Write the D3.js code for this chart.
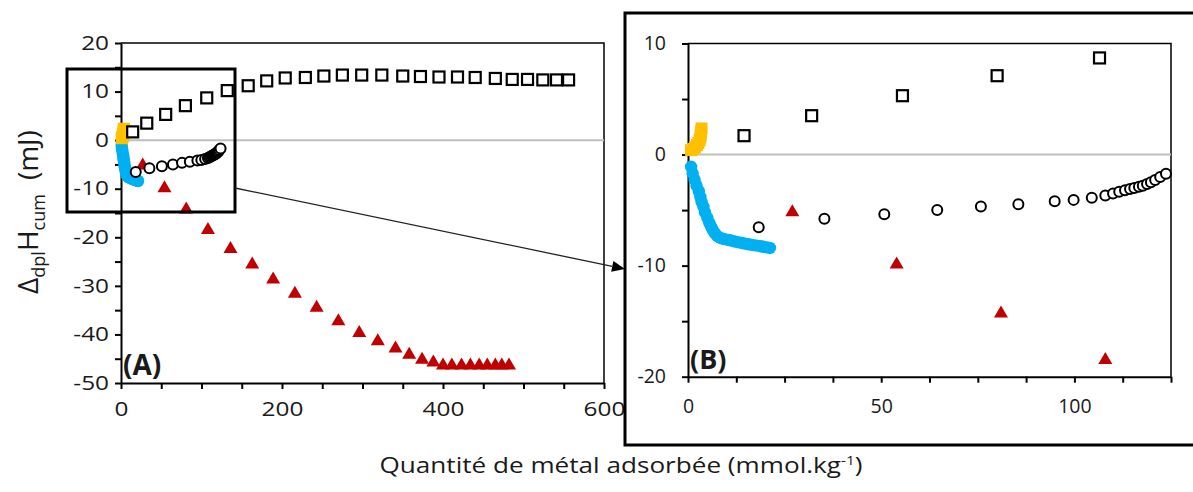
<!DOCTYPE html>
<html>
<head>
<meta charset="utf-8">
<script src="https://cdn.jsdelivr.net/npm/d3@7"></script>
<style>
  html, body { margin: 0; padding: 0; background: #fff; }
  svg { display: block; }
  text { font-family: "Open Sans", sans-serif; fill: #1a1a1a; }
</style>
</head>
<body>
<svg id="chart" width="1193" height="492"></svg>
<script>
// ---- Data ----
// Open squares series
const squareX = [14.5, 32, 55.5, 80, 106.5, 132, 158, 181, 204, 229, 252, 275, 299, 324, 350, 372, 395, 418, 440, 465, 486, 505, 524, 541, 556];
const squareY = [1.7, 3.5, 5.3, 7.1, 8.7, 10.2, 11.2, 12.2, 12.8, 12.9, 13.2, 13.4, 13.4, 13.4, 13.2, 13.1, 13.0, 13.0, 12.9, 12.7, 12.5, 12.5, 12.4, 12.4, 12.4];
// Red filled triangles series
const triX = [27, 54, 81, 108, 136, 163, 189, 216, 243, 270, 296, 319, 341, 358, 374, 388, 400, 411, 423, 434, 445, 455, 465, 473, 482];
const triY = [-5.2, -9.9, -14.3, -18.5, -22.4, -25.6, -28.7, -31.6, -34.5, -37.3, -39.7, -41.4, -42.9, -44.2, -45.2, -45.8, -46.4, -46.4, -46.4, -46.4, -46.4, -46.4, -46.4, -46.4, -46.4];
// Open circles series
const circX = [18.3, 35.3, 50.8, 64.5, 75.8, 85.5, 94.9, 99.8, 104.5, 108, 110, 111.6, 113.1, 114.4, 115.5, 116.7, 117.7, 118.8, 119.8, 120.9, 122.2, 123.7];
const circY = [-6.55, -5.77, -5.38, -5.0, -4.68, -4.47, -4.2, -4.08, -3.88, -3.69, -3.5, -3.35, -3.22, -3.1, -3.0, -2.9, -2.8, -2.65, -2.5, -2.28, -2.02, -1.72];
// Blue filled circles series
const blueX = [0.8, 1.2, 1.7, 2.2, 2.8, 3.2, 3.5, 4.0, 4.4, 5.0, 5.5, 6.0, 6.4, 7.0, 7.6, 8.4, 9.1, 10.0, 10.9, 11.8, 12.6, 13.5, 14.3, 15.2, 16.0, 16.9, 17.8, 18.7, 19.5, 20.4, 21.2];
const blueY = [-1.1, -1.7, -2.25, -2.8, -3.3, -3.8, -4.25, -4.7, -5.2, -5.7, -6.15, -6.5, -6.8, -7.1, -7.35, -7.5, -7.6, -7.66, -7.72, -7.8, -7.87, -7.93, -7.99, -8.05, -8.1, -8.15, -8.2, -8.25, -8.3, -8.36, -8.41];
// Orange filled squares series
const orangeX = [0.8, 1.3, 1.8, 2.3, 2.7, 3.0, 3.2, 3.3, 3.4, 3.5];
const orangeY = [0.4, 0.5, 0.65, 0.85, 1.05, 1.3, 1.55, 1.8, 2.05, 2.35];

// Axis ticks
const leftXTicks = [0, 50, 100, 150, 200, 250, 300, 350, 400, 450, 500, 550, 600];
const leftXLabels = [0, 200, 400, 600];
const leftYTicks = [-50, -45, -40, -35, -30, -25, -20, -15, -10, -5, 0, 5, 10, 15, 20];
const leftYLabels = [-50, -40, -30, -20, -10, 0, 10, 20];
const rightXTicks = [0, 12.5, 25, 37.5, 50, 62.5, 75, 87.5, 100, 112.5, 125];
const rightXLabels = [0, 50, 100];
const rightYTicks = [-20, -15, -10, -5, 0, 5, 10];
const rightYLabels = [-20, -10, 0, 10];

const xTitle = "Quantité de métal adsorbée (mmol.kg";
const panelA = "(A)", panelB = "(B)";

// ---- Drawing ----
const svg = d3.select("#chart");
const zip = (xs, ys) => xs.map((x, i) => ({x, y: ys[i]}));
const squares = zip(squareX, squareY), tris = zip(triX, triY), circs = zip(circX, circY);
const blues = zip(blueX, blueY), oranges = zip(orangeX, orangeY);

const COLORS = { red: "#C00000", blue: "#00B0F0", orange: "#FFC000", grid: "#BFBFBF" };

function panel(cfg) {
  const { x, y, xTicks, xLabels, yTicks, yLabels, xLabelPad, yLabelPad, fontSize, labelScale } = cfg;
  const g = svg.append("g");
  const [x0, x1] = x.range(), [y0, y1] = y.range();
  g.append("path").attr("d", `M${x0},${y1}H${x1}V${y0}`).attr("fill", "none").attr("stroke", "#000").attr("stroke-width", 1.5);
  g.append("line").attr("x1", x0).attr("x2", x1).attr("y1", y(0)).attr("y2", y(0))
    .attr("stroke", COLORS.grid).attr("stroke-width", 2);

  const ax = g.append("g").attr("transform", `translate(0,${y0})`)
    .call(d3.axisBottom(x).tickValues(xTicks).tickSize(6).tickSizeOuter(0).tickPadding(xLabelPad)
      .tickFormat(d => xLabels.includes(d) ? String(d) : ""));
  const ay = g.append("g").attr("transform", `translate(${x0},0)`)
    .call(d3.axisLeft(y).tickValues(yTicks).tickSize(6).tickSizeOuter(0).tickPadding(yLabelPad)
      .tickFormat(d => yLabels.includes(d) ? String(d) : ""));
  [ax, ay].forEach(a => {
    a.attr("font-family", null).attr("font-size", null);
    a.select(".domain").attr("stroke", "#000").attr("stroke-width", 2);
    a.selectAll(".tick line").attr("stroke", "#000").attr("stroke-width", 2);
    a.selectAll(".tick text").attr("fill", "#1a1a1a").style("font-size", fontSize + "px")
      .style("font-family", "'Open Sans', sans-serif");
  });
  if (labelScale) {
    ay.selectAll(".tick text").style("transform-box", "fill-box").style("transform-origin", "right center")
      .style("transform", `scaleX(${labelScale})`);
    ax.selectAll(".tick text").style("transform-box", "fill-box").style("transform-origin", "center center")
      .style("transform", `scaleX(${labelScale})`);
  }
  return g;
}

function drawMarkers(g, x, y) {
  const inX = d => d.x >= x.domain()[0] && d.x <= x.domain()[1] && d.y >= y.domain()[0] && d.y <= y.domain()[1];
  g.selectAll(null).data(blues.filter(inX)).join("circle")
    .attr("cx", d => x(d.x)).attr("cy", d => y(d.y)).attr("r", 6.2).attr("fill", COLORS.blue);
  g.selectAll(null).data(oranges.filter(inX)).join("rect")
    .attr("x", d => x(d.x) - 6).attr("y", d => y(d.y) - 6).attr("width", 12).attr("height", 12).attr("fill", COLORS.orange);
  g.selectAll(null).data(squares.filter(inX)).join("rect")
    .attr("x", d => x(d.x) - 5.5).attr("y", d => y(d.y) - 5.5).attr("width", 11).attr("height", 11)
    .attr("fill", "#fff").attr("stroke", "#000").attr("stroke-width", 2.2);
  const tw = 14, th = 12;
  g.selectAll(null).data(tris.filter(inX)).join("path")
    .attr("d", `M0,${-th * 2 / 3}L${tw / 2},${th / 3}L${-tw / 2},${th / 3}Z`)
    .attr("transform", d => `translate(${x(d.x)},${y(d.y)})`).attr("fill", COLORS.red);
  g.selectAll(null).data(circs.filter(inX)).join("circle")
    .attr("cx", d => x(d.x)).attr("cy", d => y(d.y)).attr("r", 5)
    .attr("fill", "#fff").attr("stroke", "#000").attr("stroke-width", 2);
}

// Left panel (A)
const lx = d3.scaleLinear().domain([0, 600]).range([121, 604]);
const ly = d3.scaleLinear().domain([-50, 20]).range([383, 43]);
const gA = panel({ x: lx, y: ly, xTicks: leftXTicks, xLabels: leftXLabels, yTicks: leftYTicks, yLabels: leftYLabels,
  xLabelPad: 13, yLabelPad: 6, fontSize: 19.5, labelScale: 1.25 });
drawMarkers(gA, lx, ly);
gA.append("text").attr("x", 123).attr("y", 375).style("font-weight", "bold").style("font-size", "28px").text(panelA);

// Right panel (B)
const rx = d3.scaleLinear().domain([0, 125]).range([688, 1171]);
const ry = d3.scaleLinear().domain([-20, 10]).range([376.7, 43.5]);
const gB = panel({ x: rx, y: ry, xTicks: rightXTicks, xLabels: rightXLabels, yTicks: rightYTicks, yLabels: rightYLabels,
  xLabelPad: 16, yLabelPad: 16, fontSize: 19.5 });
drawMarkers(gB, rx, ry);
gB.append("text").attr("x", 690).attr("y", 369).style("font-weight", "bold").style("font-size", "27px").text(panelB);

// Zoom inset box in panel A
svg.append("rect").attr("x", 67).attr("y", 69).attr("width", 168).attr("height", 143)
  .attr("fill", "none").attr("stroke", "#000").attr("stroke-width", 3);
// Outer frame of panel B
svg.append("rect").attr("x", 625).attr("y", 13).attr("width", 600).attr("height", 432)
  .attr("fill", "none").attr("stroke", "#000").attr("stroke-width", 3);

// Arrow from inset to panel B
(function () {
  const sx = 235, sy = 188, tx = 625, ty = 269;
  const ang = Math.atan2(ty - sy, tx - sx), L = 13, W = 5.5;
  const bx = tx - L * Math.cos(ang), by = ty - L * Math.sin(ang);
  svg.append("line").attr("x1", sx).attr("y1", sy).attr("x2", bx).attr("y2", by).attr("stroke", "#222").attr("stroke-width", 1.3);
  const px = -Math.sin(ang) * W, py = Math.cos(ang) * W;
  svg.append("path").attr("d", `M${tx},${ty}L${bx + px},${by + py}L${bx - px},${by - py}Z`).attr("fill", "#000");
})();

// Axis titles
const yt = svg.append("text").attr("transform", "translate(38,212) rotate(-90)").attr("text-anchor", "middle")
  .style("font-size", "28px");
yt.append("tspan").text("Δ");
yt.append("tspan").attr("dy", 7).style("font-size", "18px").text("dpl");
yt.append("tspan").attr("dy", -7).text("H");
yt.append("tspan").attr("dy", 7).style("font-size", "18px").text("cum");
yt.append("tspan").attr("dy", -7).attr("dx", 14).text("(mJ)");

const xt = svg.append("text").attr("x", 621).attr("y", 473).attr("text-anchor", "middle").style("font-size", "22px")
  .attr("textLength", 483).attr("lengthAdjust", "spacingAndGlyphs");
xt.append("tspan").text(xTitle);
xt.append("tspan").attr("dy", -8).style("font-size", "13px").text("-1");
xt.append("tspan").attr("dy", 8).text(")");
</script>
</body>
</html>
